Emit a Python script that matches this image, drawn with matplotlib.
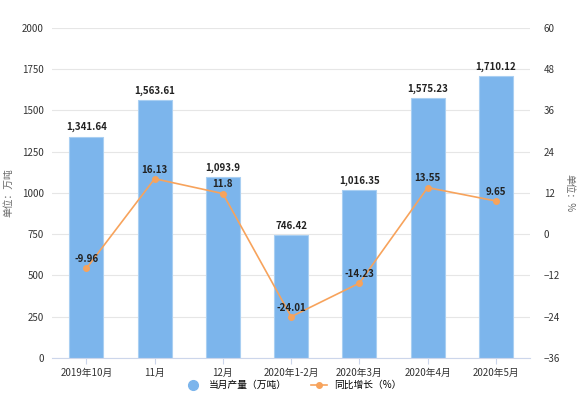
import matplotlib
matplotlib.use("Agg")
from matplotlib import pyplot as plt

plt.rcParams['font.family'] = ['Noto Sans CJK SC', 'DejaVu Sans']

categories = ["2019年10月", "11月", "12月", "2020年1-2月", "2020年3月", "2020年4月", "2020年5月"]
output = [1341.64, 1563.61, 1093.9, 746.42, 1016.35, 1575.23, 1710.12]
growth = [-9.96, 16.13, 11.8, -24.01, -14.23, 13.55, 9.65]
output_labels = ["1,341.64", "1,563.61", "1,093.9", "746.42", "1,016.35", "1,575.23", "1,710.12"]

bar_color = "#7cb5ec"
line_color = "#f7a35c"
text_color = "#333333"

fig = plt.figure(figsize=(5.87, 3.99), dpi=100)
ax = fig.add_axes([0.089, 0.103, 0.814, 0.827])
x = list(range(len(categories)))

ax.bar(x, output, width=0.5, color=bar_color, edgecolor="#a9cff2", linewidth=0.8, zorder=2)
for i, v in enumerate(output):
    ax.text(i, v + 25, output_labels[i], ha="center", va="bottom", fontsize=7,
            fontweight="bold", color="#222222", zorder=5)

ax.set_ylim(0, 2000)
ax.set_yticks(range(0, 2001, 250))
ax.set_xlim(-0.5, len(categories) - 0.5)
ax.set_xticks(x)
ax.set_xticklabels(categories)
ax.grid(axis="y", color="#e6e6e6", linewidth=0.8, zorder=0)
ax.set_axisbelow(True)
for s in ["top", "right", "left"]:
    ax.spines[s].set_visible(False)
ax.spines["bottom"].set_color("#ccd6eb")
ax.tick_params(axis="y", length=0, labelsize=7, colors=text_color, pad=6)
ax.tick_params(axis="x", length=4, labelsize=7, colors=text_color, color="#ccd6eb")
ax.set_ylabel("单位：万吨", fontsize=7, color="#666666", labelpad=6)

ax2 = ax.twinx()
ax2.plot(x, growth, color=line_color, linewidth=1.2, marker="o", markersize=4, zorder=4)
for i, v in enumerate(growth):
    ax2.text(i, v + 1.2, f"{v:g}", ha="center", va="bottom", fontsize=7,
             fontweight="bold", color="#222222", zorder=5)
ax2.set_ylim(-36, 60)
ax2.set_yticks(range(-36, 61, 12))
for s in ["top", "right", "left", "bottom"]:
    ax2.spines[s].set_visible(False)
ax2.tick_params(axis="y", length=0, labelsize=7, colors=text_color, pad=10)
ax2.set_ylabel("单位：%", fontsize=7, color="#666666", rotation=270, labelpad=10)

handles = [
    plt.Line2D([], [], color=bar_color, marker="o", linestyle="none", markersize=7),
    plt.Line2D([], [], color=line_color, marker="o", linewidth=1.2, markersize=4),
]
fig.legend(handles, ["当月产量（万吨）", "同比增长（%）"], loc="lower center",
           bbox_to_anchor=(0.5, 0.0), ncol=2, frameon=False, fontsize=7,
           handlelength=1.6, columnspacing=2.5)

fig.savefig("out.png", dpi=100)
